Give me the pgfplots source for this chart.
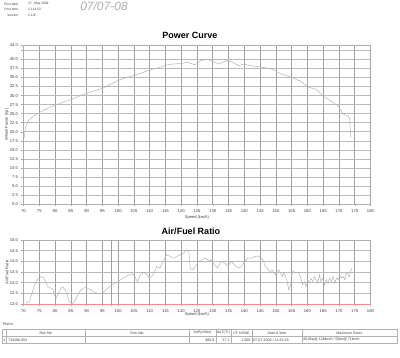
\documentclass[border=0pt]{standalone}
\usepackage{fontspec}
\setmainfont{Liberation Sans}
\usepackage{pgfplots}
\pgfplotsset{compat=1.18}
\pgfplotsset{dyno/.style={
  scale only axis, width=347pt, xmin=70, xmax=180,
  xtick={70,75,...,180},
  tick label style={font=\fontsize{4.2}{5}\selectfont, text=black!75},
  /pgf/number format/assume math mode=true,
  grid=major,
  major x grid style={gray!75, line width=0.55pt},
  major y grid style={gray!55, line width=0.45pt},
  axis line style={gray!65, line width=0.45pt},
  tick style={gray!70, line width=0.4pt},
  tick align=outside, major tick length=2pt,
  xtick pos=bottom, ytick pos=left,
  label style={font=\fontsize{4}{5}\selectfont, text=black!75},
  yticklabel style={/pgf/number format/.cd, fixed, fixed zerofill, precision=1},
  xticklabel style={/pgf/number format/.cd, fixed, precision=0},
  xlabel={Speed (km/h)},
}}
\begin{document}
\begin{tikzpicture}
\path[use as bounding box] (0pt,0pt) rectangle (400pt,358pt);
% header
\begin{scope}[every node/.style={font=\fontsize{3.3}{4}\selectfont, text=black!75, inner sep=0pt}]
\node[anchor=east] at (18.5pt,354pt) {Print date};
\node[anchor=east] at (18.5pt,348.3pt) {Print time};
\node[anchor=east] at (18.5pt,343pt) {Version};
\node[anchor=west] at (28pt,354pt) {27. May 2009};
\node[anchor=west] at (28pt,348.3pt) {13:14:52};
\node[anchor=west] at (28pt,343pt) {5.10f};
\end{scope}
\node[font=\fontsize{12}{13}\selectfont\itshape, text=gray!65, inner sep=0pt] at (104pt,352pt) {07/07-08};
% titles
\node[font=\fontsize{9}{10}\selectfont\bfseries, inner sep=0pt] at (190pt,323pt) {Power Curve};
\node[font=\fontsize{9}{10}\selectfont\bfseries, inner sep=0pt] at (191pt,126.3pt) {Air/Fuel Ratio};

\begin{axis}[dyno, at={(23.5pt,154pt)}, anchor=south west, height=159pt,
  ymin=0, ymax=44,
  ytick={0,2.5,5,7.5,10,12.5,15,17.5,20,22.5,25,27.5,30,32.5,35,37.5,40,44},
  extra y ticks={42.5}, extra y tick labels={},
  extra y tick style={grid=major, major grid style={gray!55, line width=0.45pt}},
  ylabel={Wheel Power (hp)},
  xlabel style={at={(axis description cs:0.5,-0.082)}, anchor=center},
  ylabel style={at={(axis description cs:-0.048,0.5)}, anchor=center},
]
\addplot[gray!60, line width=0.5pt] coordinates {
(70.3,18.4) (70.6,21.2) (71.6,23.1) (73.2,24.3) (74.8,25.2) (77,26.2) (79.6,27.2) (82,28) (85,28.9) (87.5,29.8) (90,30.6) (92.5,31.3) (95,32) (97.5,33.1) (100,34.2) (102.5,34.9) (105,35.6) (107,36.1) (110,37.1) (112.5,37.6) (115,38.4) (117,38.7) (120,38.9) (122,39.2) (124.4,38.5) (126.1,39.6) (127.5,39.9) (128,40.0) (129.2,39.8) (131.8,38.7) (134.6,39.7) (136,39.3) (138.2,38.3) (139.9,38.7) (142,38.3) (145.2,37.9) (148.4,37.4) (150,36.8) (151.6,36.0) (154.8,35.1) (158,33.9) (160.1,32.4) (162.8,31.7) (165.4,29.6) (168.1,28.1) (169.7,27.2) (171.3,24.9) (172.9,24.3) (173.4,23.5) (173.7,18.4)
};
\end{axis}

\begin{axis}[dyno, at={(23.5pt,54pt)}, anchor=south west, height=64pt,
  ymin=12, ymax=15,
  ytick={12,12.5,13,13.5,14,14.5,15},
  extra x ticks={97.9}, extra x tick labels={},
  extra x tick style={grid=major, major grid style={gray!75, line width=0.55pt}},
  ylabel={Air/Fuel Ratio},
  xlabel style={at={(axis description cs:0.5,-0.156)}, anchor=center},
  ylabel style={at={(axis description cs:-0.048,0.5)}, anchor=center},
  clip=false,
]
\addplot[red!45, line width=0.6pt] coordinates {(70,12) (180,12)};
\addplot[gray!60, line width=0.5pt] coordinates {
(70.8,12.04) (71.9,12.12) (72.7,12.51) (73.5,12.90) (74.5,13.17) (75.6,13.29) (76.3,13.24) (76.9,13.06) (77.7,12.82) (78.7,12.74) (79.3,12.66) (79.8,12.43) (80.3,12.27) (80.8,12.43) (81.9,12.74) (82.4,12.79) (83.3,12.66) (84.0,12.35) (84.5,12.12) (85.4,12.01) (86.1,12.12) (87.2,12.43) (88.2,12.66) (89.3,12.77) (90.3,12.74) (91.4,12.66) (92.4,12.54) (93.5,12.51) (94.5,12.48) (95.1,12.51) (95.9,12.62) (96.9,12.77) (98.2,12.90) (99.3,12.98) (100.3,13.09) (101.9,13.24) (103.5,13.37) (104.6,13.42) (105.6,13.21) (106.1,13.06) (107.1,13.37) (108.2,13.48) (109.2,13.37) (110.0,13.21) (111.1,13.37) (112.2,13.76) (113.2,13.68) (114.3,14.0) (115.4,14.31) (116.5,14.23) (117.5,14.15) (118.6,14.23) (119.7,14.31) (120.8,14.39) (121.8,14.55) (122.4,14.47) (122.9,13.68) (123.5,13.6) (124.5,13.76) (125.6,14.0) (126.7,14.08) (127.8,14.15) (128.8,14.0) (129.4,14.08) (130.5,13.84) (131.5,13.68) (132.6,14.0) (133.7,13.92) (134.8,13.76) (135.8,14.0) (136.9,13.84) (138.0,13.68) (139.1,13.76) (140.1,14.0) (141.2,14.15) (142.3,14.15) (143.4,14.23) (144.4,14.25) (145.5,14.15) (146.1,14.0) (146.6,13.76) (147.2,13.68) (147.7,13.6) (148.2,13.45) (148.8,13.6) (149.8,13.37) (150.4,13.53) (150.9,13.6) (151.5,13.45) (152.0,13.29) (152.5,13.45) (153.1,13.29) (153.6,13.06) (154.1,12.66) (154.7,12.9) (155.0,13.37) (155.5,13.53) (156.3,13.45) (157.2,13.5) (157.9,13.21) (158.4,12.9) (159.0,13.06) (159.5,12.82) (160.1,13.13) (160.6,12.98) (161.1,13.21) (161.7,13.06) (162.2,13.29) (162.7,13.13) (163.3,12.98) (163.8,13.37) (164.3,13.06) (164.9,13.21) (165.4,12.9) (166.0,13.13) (166.5,12.98) (167.0,13.21) (167.6,13.06) (168.1,13.29) (168.7,12.98) (169.2,13.21) (169.7,13.13) (170.3,13.37) (170.8,13.21) (171.3,13.29) (171.9,13.13) (172.2,13.37) (172.6,13.45) (173.3,13.29) (173.7,13.53) (174.1,13.68)
};
\end{axis}

% runs table
\node[anchor=west, font=\fontsize{4}{5}\selectfont, text=black!75, inner sep=0pt] at (3pt,34pt) {Runs:};
\begin{scope}[gray!60, line width=0.4pt]
\draw (2.5pt,29pt) rectangle (397pt,14.7pt);
\draw (2.5pt,21.3pt) -- (397pt,21.3pt);
\foreach \xx in {6.5,85,189,216,231,252,302} \draw (\xx pt,29pt) -- (\xx pt,14.7pt);
\end{scope}
\begin{scope}[every node/.style={font=\fontsize{3.6}{4.3}\selectfont, text=black!75, inner sep=0pt}]
\node at (45.75pt,25.2pt) {Run file};
\node at (137pt,25.2pt) {Run title};
\node at (202.5pt,25.2pt) {AirP(mBar)};
\node at (223.5pt,25.2pt) {AirT(°C)};
\node at (241.5pt,25.2pt) {CF NONE};
\node at (277pt,25.2pt) {Date \& time};
\node at (349.5pt,25.2pt) {Maximum Rates};
\node at (4.5pt,18pt) {1};
\node[anchor=west] at (8pt,18pt) {734486.003};
\node[anchor=east] at (214.5pt,18pt) {966.9};
\node[anchor=east] at (229.5pt,18pt) {27.1};
\node[anchor=east] at (250.5pt,18pt) {1.000};
\node[anchor=west] at (253pt,18pt) {07-07-2008 / 14:23:29};
\node[anchor=west] at (303pt,18pt) {40.0hp@ 128km/h / 0Nm@ 71km/h};
\end{scope}
\end{tikzpicture}
\end{document}
